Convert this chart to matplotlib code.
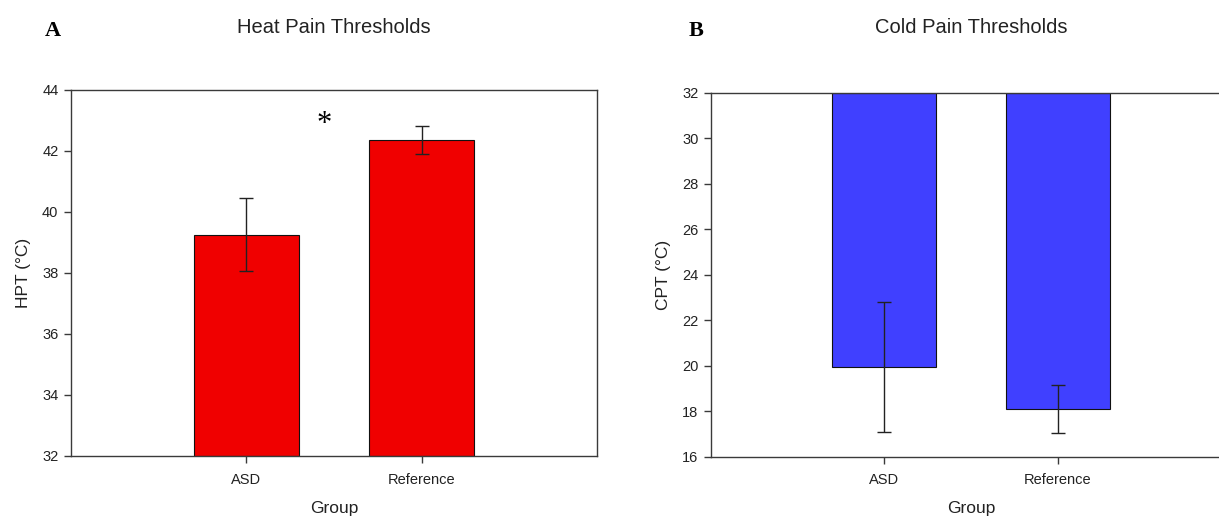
import numpy as np
import matplotlib

matplotlib.use("Agg")
import matplotlib.pyplot as plt

plt.rcParams["font.family"] = ["Liberation Sans", "DejaVu Sans"]

groups = ["ASD", "Reference"]
hpt_mean = [39.25, 42.36]
hpt_err = [1.2, 0.46]
cpt_mean = [19.95, 18.1]
cpt_err = [2.85, 1.05]
cpt_base = 32

AX_COL = "#3a3a3a"

fig = plt.figure(figsize=(12.19, 5.17), dpi=100)
axA = fig.add_axes([0.0582, 0.118, 0.4315, 0.708])
axB = fig.add_axes([0.5833, 0.1166, 0.4266, 0.704])

x = np.arange(len(groups))


def style(ax):
    for s in ax.spines.values():
        s.set_color(AX_COL)
        s.set_linewidth(1.0)
    ax.tick_params(direction="out", length=5, width=1, color=AX_COL,
                   labelsize=10.5, labelcolor="#222222", pad=4)
    ax.tick_params(axis="x", pad=7)
    ax.set_xticks(x)
    ax.set_xticklabels(groups)
    ax.set_xlim(-1, 2)
    ax.set_xlabel("Group", fontsize=12.5, color="#222222", labelpad=10)


# ---- A: heat pain
axA.bar(x, np.array(hpt_mean) - 32, bottom=32, width=0.6, color="#f00000",
        edgecolor="#111111", linewidth=0.8, zorder=2)
axA.errorbar(x, hpt_mean, yerr=hpt_err, fmt="none", ecolor="#222222",
             elinewidth=1, capsize=5, capthick=1, zorder=3)
axA.set_ylim(32, 44)
axA.set_yticks(np.arange(32, 45, 2))
style(axA)
axA.set_ylabel("HPT (°C)", fontsize=12.5, color="#222222", labelpad=8)
axA.text(0.445, 42.88, "*", fontsize=22, ha="center", va="center",
         family="Liberation Serif")
axA.set_title("Heat Pain Thresholds", fontsize=14.5, color="#222222",
              pad=41)
fig.text(0.043, 0.94, "A", fontsize=16, fontweight="bold",
         family="Liberation Serif", va="center", ha="center")

# ---- B: cold pain (bars hang from 32)
axB.bar(x, np.array(cpt_mean) - cpt_base, bottom=cpt_base, width=0.6,
        color="#4040ff", edgecolor="#111111", linewidth=0.8, zorder=2)
axB.errorbar(x, cpt_mean, yerr=cpt_err, fmt="none", ecolor="#222222",
             elinewidth=1, capsize=5, capthick=1, zorder=3)
axB.set_ylim(16, 32)
axB.set_yticks(np.arange(16, 33, 2))
style(axB)
axB.set_ylabel("CPT (°C)", fontsize=12.5, color="#222222", labelpad=8)
axB.set_title("Cold Pain Thresholds", fontsize=14.5, color="#222222",
              pad=43)
fig.text(0.571, 0.94, "B", fontsize=16, fontweight="bold",
         family="Liberation Serif", va="center", ha="center")

fig.savefig("out.png", dpi=100)
